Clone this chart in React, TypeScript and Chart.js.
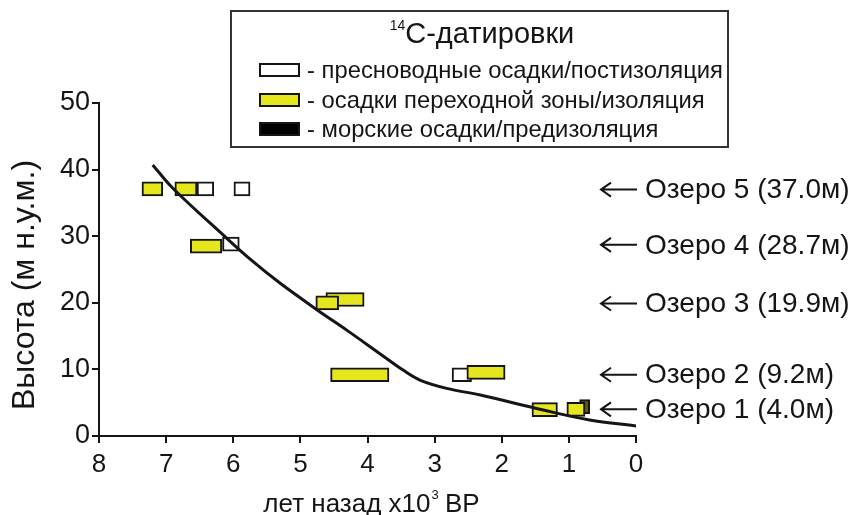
import React, { useEffect, useRef } from 'react';
import { Chart, registerables } from 'chart.js';

Chart.register(...registerables);

const FONT = "'Liberation Sans', Arial, Helvetica, sans-serif";
const INK = '#151515';
const YELLOW = '#e6e61e';
const OLIVE = '#5a5a1e';

// axis ranges / ticks
const xRange = [0, 8];
const yRange = [0, 50];
const xTickValues = [0, 1, 2, 3, 4, 5, 6, 7, 8];
const yTickValues = [0, 10, 20, 30, 40, 50];

// 14C dates: age ranges (x10^3 BP) and heights (m a.s.l.)
const yellowRanges = [[7.36, 7.05], [6.87, 6.54], [6.64, 6.17], [4.62, 4.05], [4.77, 4.43], [4.55, 3.68], [2.52, 1.95], [1.55, 1.17], [1.03, 0.76]];
const yellowHeights = [37.1, 37.1, 28.5, 20.5, 20.0, 9.2, 9.55, 3.95, 4.0];
const whiteRanges = [[6.54, 6.29], [5.99, 5.75], [6.16, 5.91], [2.74, 2.45]];
const whiteHeights = [37.1, 37.1, 28.8, 9.2];
const marineRanges = [[0.84, 0.69]];
const marineHeights = [4.4];

// shoreline displacement curve
const curveAges = [0, 0.69, 1.38, 2.32, 2.82, 3.22, 3.47, 3.82, 4.31, 4.76, 5.31, 5.73, 6.13, 6.9, 7.2];
const curveHeights = [1.5, 2.4, 3.9, 6.15, 7.15, 8.4, 9.9, 12.4, 15.9, 19.0, 23.0, 26.4, 30.0, 37.2, 40.7];

// lakes
const lakeNames = ['Озеро 5', 'Озеро 4', 'Озеро 3', 'Озеро 2', 'Озеро 1'];
const lakeLevels = [37.0, 28.7, 19.9, 9.2, 4.0];

// legend
const legendTitleSup = '14';
const legendTitle = 'С-датировки';
const legendLabels = [
  '- пресноводные осадки/постизоляция',
  '- осадки переходной зоны/изоляция',
  '- морские осадки/предизоляция',
];
const legendFills = ['#ffffff', YELLOW, '#000000'];

const yTitle = 'Высота (м н.у.м.)';
const xTitleMain = 'лет назад x10';
const xTitleSup = '3';
const xTitleEnd = ' BP';

const toBars = (ranges: number[][], heights: number[]) =>
  ranges.map((r, i) => ({ x: [r[0], r[1]], y: heights[i] }));

const barDataset = (label: string, ranges: number[][], heights: number[], fill: string, order: number) => ({
  type: 'bar' as const,
  label,
  indexAxis: 'y' as const,
  data: toBars(ranges, heights),
  backgroundColor: fill,
  borderColor: INK,
  borderWidth: 2,
  borderSkipped: false,
  barThickness: 14,
  grouped: false,
  order,
});

const decorPlugin = {
  id: 'decor',
  afterDraw(chart: any) {
    const ctx = chart.ctx as CanvasRenderingContext2D;
    const yS = chart.scales.y;
    const area = chart.chartArea;
    ctx.save();
    ctx.fillStyle = INK;
    ctx.strokeStyle = INK;

    // legend frame
    ctx.lineWidth = 2;
    ctx.strokeStyle = '#333';
    ctx.strokeRect(231, 11, 497, 136);

    // legend title
    ctx.fillStyle = INK;
    ctx.textBaseline = 'alphabetic';
    ctx.textAlign = 'left';
    const tFont = `29px ${FONT}`;
    ctx.font = tFont;
    const tw = ctx.measureText(legendTitle).width;
    ctx.font = `14px ${FONT}`;
    const sw = ctx.measureText(legendTitleSup).width;
    const tx = 482 - (tw + sw) / 2;
    ctx.fillText(legendTitleSup, tx, 30);
    ctx.font = tFont;
    ctx.fillText(legendTitle, tx + sw, 43);

    // legend rows
    const rowY = [70, 100, 129];
    ctx.font = `23.8px ${FONT}`;
    ctx.textBaseline = 'middle';
    legendLabels.forEach((lab, i) => {
      ctx.fillStyle = INK;
      ctx.fillRect(259, rowY[i] - 7, 41, 14);
      ctx.fillStyle = legendFills[i];
      ctx.fillRect(261, rowY[i] - 5, 37, 10);
      ctx.fillStyle = INK;
      ctx.fillText(lab, 307, rowY[i] + 1);
    });

    // lake labels with arrows
    ctx.font = `28px ${FONT}`;
    ctx.strokeStyle = INK;
    ctx.lineWidth = 2;
    lakeNames.forEach((name, i) => {
      const y = yS.getPixelForValue(lakeLevels[i]);
      const x0 = area.right - 35;
      const x1 = area.right + 1;
      ctx.beginPath();
      ctx.moveTo(x1, y);
      ctx.lineTo(x0, y);
      ctx.moveTo(x0 + 10, y - 7);
      ctx.lineTo(x0, y);
      ctx.lineTo(x0 + 10, y + 7);
      ctx.stroke();
      ctx.textBaseline = 'middle';
      ctx.fillText(`${name} (${lakeLevels[i].toFixed(1)}м)`, area.right + 9, y + 1);
    });

    // y title
    ctx.save();
    ctx.translate(25, 285);
    ctx.rotate(-Math.PI / 2);
    ctx.textAlign = 'center';
    ctx.textBaseline = 'middle';
    ctx.font = `32px ${FONT}`;
    ctx.fillText(yTitle, 0, 0);
    ctx.restore();

    // x title
    ctx.textBaseline = 'alphabetic';
    ctx.textAlign = 'left';
    ctx.font = `26px ${FONT}`;
    const w1 = ctx.measureText(xTitleMain).width;
    const w3 = ctx.measureText(xTitleEnd).width;
    ctx.font = `13px ${FONT}`;
    const w2 = ctx.measureText(xTitleSup).width;
    const cx = (area.left + area.right) / 2 + 4;
    let xx = cx - (w1 + w2 + w3) / 2;
    ctx.font = `26px ${FONT}`;
    ctx.fillText(xTitleMain, xx, 512);
    xx += w1;
    ctx.font = `13px ${FONT}`;
    ctx.fillText(xTitleSup, xx + 1, 499);
    xx += w2;
    ctx.font = `26px ${FONT}`;
    ctx.fillText(xTitleEnd, xx, 512);
    ctx.restore();
  },
};

export default function App() {
  const ref = useRef<HTMLCanvasElement>(null);
  useEffect(() => {
    const canvas = ref.current;
    if (!canvas) return;
    const chart = new Chart(canvas, {
      type: 'scatter',
      data: {
        datasets: [
          {
            type: 'line' as const,
            label: 'curve',
            data: curveAges.map((a, i) => ({ x: a, y: curveHeights[i] })),
            borderColor: INK,
            borderWidth: 3,
            pointRadius: 0,
            showLine: true,
            fill: false,
            tension: 0.35,
            order: 1,
          },
          barDataset('yellow', yellowRanges, yellowHeights, YELLOW, 2),
          barDataset('white', whiteRanges, whiteHeights, '#ffffff', 3),
          barDataset('marine', marineRanges, marineHeights, OLIVE, 4),
        ] as any,
      },
      options: {
        animation: false,
        responsive: false,
        devicePixelRatio: 1,
        layout: { padding: { left: 0, right: 217, top: 103, bottom: 0 } },
        plugins: { legend: { display: false }, tooltip: { enabled: false } },
        scales: {
          x: {
            type: 'linear',
            reverse: true,
            min: xRange[0],
            max: xRange[1],
            offset: false,
            afterBuildTicks: (s: any) => { s.ticks = xTickValues.map((v) => ({ value: v })); },
            ticks: { autoSkip: false, color: INK, padding: 6, font: { family: FONT, size: 26 }, maxRotation: 0 },
            grid: { offset: false, drawOnChartArea: false, drawTicks: true, tickLength: 7, color: INK, lineWidth: 2 },
            border: { display: true, color: INK, width: 2 },
            afterFit: (s: any) => { s.height = 79; },
          },
          y: {
            type: 'linear',
            min: yRange[0],
            max: yRange[1],
            offset: false,
            afterBuildTicks: (s: any) => { s.ticks = yTickValues.map((v) => ({ value: v })); },
            ticks: { autoSkip: false, color: INK, padding: 2, font: { family: FONT, size: 27 } },
            grid: { offset: false, drawOnChartArea: false, drawTicks: true, tickLength: 7, color: INK, lineWidth: 2 },
            border: { display: true, color: INK, width: 2 },
            afterFit: (s: any) => { s.width = 99; },
          },
        },
      } as any,
      plugins: [decorPlugin],
    });
    return () => chart.destroy();
  }, []);
  return (
    <div style={{ position: 'fixed', left: 0, top: 0, width: 853, height: 515, background: '#fff' }}>
      <canvas ref={ref} width={853} height={515} style={{ display: 'block' }} />
    </div>
  );
}
